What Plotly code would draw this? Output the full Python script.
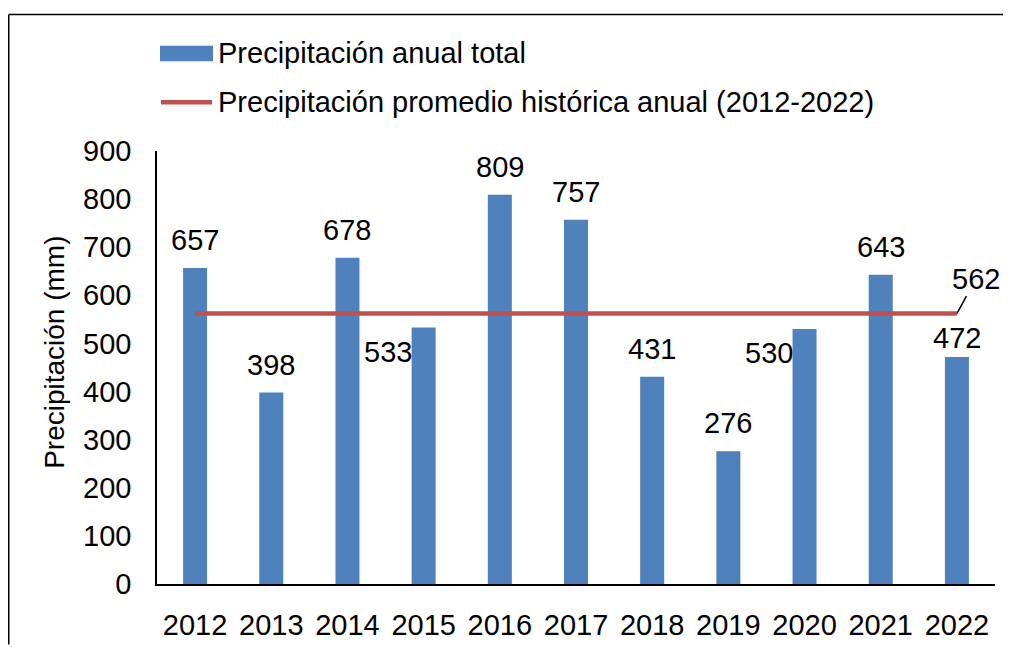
import plotly.graph_objects as go

# ---- data ----
years = ["2012", "2013", "2014", "2015", "2016", "2017", "2018", "2019", "2020", "2021", "2022"]
precip_total = [657, 398, 678, 533, 809, 757, 431, 276, 530, 643, 472]
precip_mean = 562
series_bar_name = "Precipitación anual total"
series_line_name = "Precipitación promedio histórica anual (2012-2022)"
y_title = "Precipitación (mm)"
y_ticks = [0, 100, 200, 300, 400, 500, 600, 700, 800, 900]

# ---- style ----
FONT = "Liberation Sans, Arial, sans-serif"
FS = 29
BLUE = "#4F81BD"
RED = "#C0504D"
OFF = 8                                        # default body margin of the page
W, H = 1011 - 2 * OFF, 657 - 2 * OFF           # page exactly fills the 1011x657 window
PL, PR, PT, PB = 157, 995, 151, 595            # plot area in window pixels
PW, PH = PR - PL, PB - PT
L, T = PL - OFF, PT - OFF
R, B = W - L - PW, H - T - PH

# label placement tweaks (pixel shifts), style only
label_left = {"2015", "2020"}
label_yshift = {"2022": 19}


def px_x(px):
    return (px - PL) / PW


def px_y(py):
    return (PB - py) / PH


fig = go.Figure()
fig.add_trace(go.Bar(x=years, y=precip_total, name=series_bar_name,
                     marker=dict(color=BLUE, line=dict(width=0)), width=0.315))
fig.add_trace(go.Scatter(x=years, y=[precip_mean] * len(years), name=series_line_name,
                         mode="lines", line=dict(color=RED, width=4.5)))

annotations = []
for i, (yr, v) in enumerate(zip(years, precip_total)):
    if yr in label_left:
        annotations.append(dict(x=i, y=v, text=str(v), showarrow=False,
                                xanchor="right", yanchor="middle", xshift=-10, yshift=-24,
                                font=dict(family=FONT, size=FS, color="black")))
    else:
        annotations.append(dict(x=i, y=v, text=str(v), showarrow=False,
                                xanchor="center", yanchor="middle",
                                yshift=label_yshift.get(yr, 28),
                                font=dict(family=FONT, size=FS, color="black")))
# mean label with leader line
annotations.append(dict(x=len(years) - 1, y=precip_mean, text=str(precip_mean), showarrow=True,
                        arrowhead=0, arrowwidth=1.5, arrowcolor="black", ax=19, ay=-35,
                        font=dict(family=FONT, size=FS, color="black")))
# y title
annotations.append(dict(xref="paper", yref="paper", x=px_x(55), y=px_y(358),
                        text=y_title, textangle=-90, showarrow=False,
                        xanchor="center", yanchor="middle",
                        font=dict(family=FONT, size=28, color="black")))

# custom legend
shapes = [
    dict(type="rect", xref="paper", yref="paper", x0=px_x(160), x1=px_x(213),
         y0=px_y(59), y1=px_y(43), fillcolor=BLUE, line=dict(width=0)),
    dict(type="line", xref="paper", yref="paper", x0=px_x(161), x1=px_x(212),
         y0=px_y(101), y1=px_y(101), line=dict(color=RED, width=4.5)),
    # chart border (top and left edges; right and bottom run off the picture)
    dict(type="line", xref="paper", yref="paper", x0=px_x(OFF + 0.75), x1=px_x(1011),
         y0=px_y(11), y1=px_y(11), line=dict(color="black", width=1.5)),
    dict(type="line", xref="paper", yref="paper", x0=px_x(OFF + 0.75), x1=px_x(OFF + 0.75),
         y0=px_y(11), y1=px_y(657), line=dict(color="black", width=1.5)),
]
annotations.append(dict(xref="paper", yref="paper", x=px_x(216), y=px_y(51), text=series_bar_name,
                        showarrow=False, xanchor="left", yanchor="middle",
                        font=dict(family=FONT, size=FS, color="black")))
annotations.append(dict(xref="paper", yref="paper", x=px_x(216), y=px_y(101), text=series_line_name,
                        showarrow=False, xanchor="left", yanchor="middle",
                        font=dict(family=FONT, size=FS, color="black")))

fig.update_layout(
    width=W, height=H,
    margin=dict(l=L, r=R, t=T, b=B, pad=0),
    paper_bgcolor="white", plot_bgcolor="white",
    showlegend=False,
    font=dict(family=FONT, size=FS, color="black"),
    annotations=annotations, shapes=shapes,
    xaxis=dict(type="category", range=[-0.5, len(years) - 0.5], showline=True,
               linecolor="black", linewidth=1.5, showgrid=False, ticks="",
               ticklabelstandoff=14, tickfont=dict(family=FONT, size=FS, color="black")),
    yaxis=dict(range=[0, 900], tickvals=y_ticks, showline=True, linecolor="black",
               linewidth=1.5, showgrid=False, ticks="", zeroline=False,
               ticklabelstandoff=18, tickfont=dict(family=FONT, size=FS, color="black")),
)

fig.write_html("out.html", config={"displayModeBar": False})
